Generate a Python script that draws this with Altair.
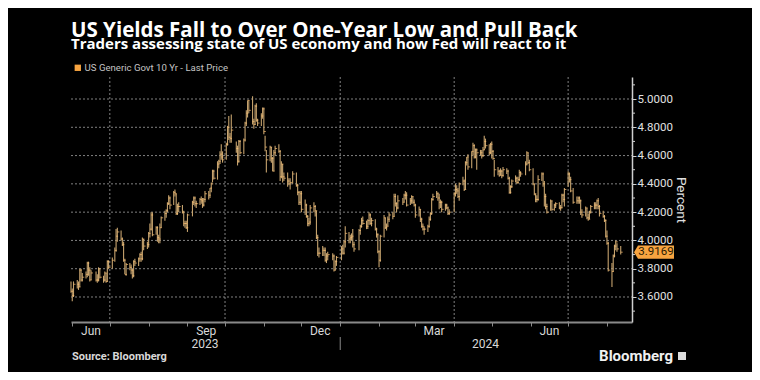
import altair as alt
import pandas as pd

# ---------------- data (US Generic Govt 10 Yr, daily high / low / last) -------------
trade_days = {
    "2023-05": [31],
    "2023-06": [1, 2, 5, 6, 7, 8, 9, 12, 13, 14, 15, 16, 20, 21, 22, 23, 26, 27, 28, 29, 30],
    "2023-07": [3, 5, 6, 7, 10, 11, 12, 13, 14, 17, 18, 19, 20, 21, 24, 25, 26, 27, 28, 31],
    "2023-08": [1, 2, 3, 4, 7, 8, 9, 10, 11, 14, 15, 16, 17, 18, 21, 22, 23, 24, 25, 28, 29, 30, 31],
    "2023-09": [1, 5, 6, 7, 8, 11, 12, 13, 14, 15, 18, 19, 20, 21, 22, 25, 26, 27, 28, 29],
    "2023-10": [2, 3, 4, 5, 6, 10, 11, 12, 13, 16, 17, 18, 19, 20, 23, 24, 25, 26, 27, 30, 31],
    "2023-11": [1, 2, 3, 6, 7, 8, 9, 10, 13, 14, 15, 16, 17, 20, 21, 22, 24, 27, 28, 29, 30],
    "2023-12": [1, 4, 5, 6, 7, 8, 11, 12, 13, 14, 15, 18, 19, 20, 21, 22, 26, 27, 28, 29],
    "2024-01": [2, 3, 4, 5, 8, 9, 10, 11, 12, 16, 17, 18, 19, 22, 23, 24, 25, 26, 29, 30, 31],
    "2024-02": [1, 2, 5, 6, 7, 8, 9, 12, 13, 14, 15, 16, 20, 21, 22, 23, 26, 27, 28, 29],
    "2024-03": [1, 4, 5, 6, 7, 8, 11, 12, 13, 14, 15, 18, 19, 20, 21, 22, 25, 26, 27, 28],
    "2024-04": [1, 2, 3, 4, 5, 8, 9, 10, 11, 12, 15, 16, 17, 18, 19, 22, 23, 24, 25, 26, 29, 30],
    "2024-05": [1, 2, 3, 6, 7, 8, 9, 10, 13, 14, 15, 16, 17, 20, 21, 22, 23, 24, 28, 29, 30, 31],
    "2024-06": [3, 4, 5, 6, 7, 10, 11, 12, 13, 14, 17, 18, 20, 21, 24, 25, 26, 27, 28],
    "2024-07": [1, 2, 3, 5, 8, 9, 10, 11, 12, 15, 16, 17, 18, 19, 22, 23, 24, 25, 26, 29, 30, 31],
    "2024-08": [1, 2, 5, 6, 7, 8, 9, 12],
}

close = [
    3.64,
    3.61, 3.69, 3.69, 3.67, 3.79, 3.72, 3.74, 3.76, 3.84, 3.79, 3.72, 3.77, 3.72, 3.72, 3.80, 3.74, 3.72, 3.77, 3.71, 3.85, 3.81,
    3.86, 3.93, 4.03, 4.06, 4.01, 3.97, 3.86, 3.76, 3.83, 3.81, 3.79, 3.75, 3.85, 3.84, 3.87, 3.90, 3.87, 4.01, 3.96, 3.97,
    4.05, 4.08, 4.18, 4.04, 4.09, 4.02, 4.01, 4.09, 4.16, 4.19, 4.21, 4.26, 4.30, 4.25, 4.34, 4.33, 4.19, 4.24, 4.24, 4.20, 4.12, 4.12, 4.09,
    4.18, 4.27, 4.30, 4.26, 4.26, 4.29, 4.28, 4.25, 4.29, 4.33, 4.32, 4.37, 4.40, 4.49, 4.44, 4.54, 4.56, 4.61, 4.59, 4.57,
    4.68, 4.80, 4.73, 4.72, 4.78, 4.65, 4.56, 4.70, 4.62, 4.71, 4.83, 4.90, 4.99, 4.92, 4.84, 4.82, 4.95, 4.85, 4.83, 4.88, 4.93,
    4.77, 4.66, 4.57, 4.66, 4.58, 4.49, 4.62, 4.65, 4.63, 4.45, 4.54, 4.45, 4.44, 4.42, 4.40, 4.41, 4.47, 4.39, 4.34, 4.27, 4.33,
    4.22, 4.25, 4.17, 4.12, 4.13, 4.23, 4.24, 4.21, 4.02, 3.91, 3.91, 3.93, 3.93, 3.86, 3.89, 3.90, 3.89, 3.79, 3.85, 3.88,
    3.94, 3.91, 3.99, 4.05, 4.01, 4.02, 4.03, 3.97, 3.94, 4.07, 4.10, 4.14, 4.12, 4.10, 4.14, 4.18, 4.12, 4.14, 4.08, 4.04, 3.92,
    3.86, 4.03, 4.16, 4.09, 4.10, 4.15, 4.18, 4.17, 4.31, 4.26, 4.23, 4.28, 4.27, 4.32, 4.32, 4.25, 4.28, 4.31, 4.27, 4.25,
    4.18, 4.22, 4.15, 4.10, 4.08, 4.08, 4.10, 4.15, 4.19, 4.29, 4.31, 4.33, 4.30, 4.27, 4.27, 4.22, 4.25, 4.23, 4.19, 4.20,
    4.33, 4.36, 4.35, 4.31, 4.40, 4.42, 4.36, 4.55, 4.59, 4.52, 4.63, 4.67, 4.59, 4.64, 4.62, 4.62, 4.60, 4.64, 4.70, 4.67, 4.62, 4.68,
    4.63, 4.58, 4.50, 4.49, 4.46, 4.49, 4.46, 4.50, 4.49, 4.44, 4.34, 4.38, 4.42, 4.44, 4.41, 4.43, 4.48, 4.47, 4.54, 4.62, 4.55, 4.50,
    4.40, 4.33, 4.29, 4.29, 4.43, 4.47, 4.40, 4.31, 4.24, 4.20, 4.28, 4.22, 4.25, 4.26, 4.23, 4.23, 4.32, 4.29, 4.36,
    4.47, 4.43, 4.35, 4.27, 4.28, 4.30, 4.28, 4.20, 4.18, 4.23, 4.16, 4.15, 4.20, 4.24, 4.25, 4.25, 4.28, 4.24, 4.19, 4.17, 4.14, 4.03,
    3.98, 3.79, 3.78, 3.89, 3.96, 3.99, 3.94, 3.9169,
]

high = [
    3.71,
    3.66, 3.71, 3.72, 3.71, 3.80, 3.80, 3.77, 3.78, 3.85, 3.85, 3.81, 3.79, 3.78, 3.76, 3.81, 3.80, 3.75, 3.78, 3.77, 3.86, 3.86,
    3.88, 3.95, 4.08, 4.09, 4.07, 4.02, 3.99, 3.87, 3.84, 3.84, 3.83, 3.80, 3.86, 3.87, 3.88, 3.91, 3.92, 4.02, 4.01, 3.99,
    4.06, 4.12, 4.20, 4.20, 4.10, 4.10, 4.04, 4.12, 4.17, 4.21, 4.22, 4.27, 4.32, 4.31, 4.35, 4.36, 4.33, 4.26, 4.27, 4.25, 4.21, 4.14, 4.14,
    4.19, 4.28, 4.31, 4.31, 4.28, 4.30, 4.31, 4.30, 4.30, 4.35, 4.35, 4.37, 4.41, 4.50, 4.50, 4.56, 4.57, 4.63, 4.68, 4.63,
    4.69, 4.81, 4.88, 4.76, 4.89, 4.70, 4.67, 4.71, 4.71, 4.72, 4.84, 4.92, 4.99, 4.99, 5.02, 4.86, 4.96, 4.97, 4.86, 4.90, 4.94,
    4.94, 4.74, 4.64, 4.67, 4.66, 4.59, 4.64, 4.67, 4.68, 4.64, 4.56, 4.54, 4.48, 4.48, 4.44, 4.44, 4.49, 4.48, 4.40, 4.35, 4.35,
    4.35, 4.29, 4.26, 4.18, 4.16, 4.25, 4.27, 4.25, 4.21, 4.04, 3.95, 3.96, 3.95, 3.95, 3.91, 3.92, 3.91, 3.90, 3.86, 3.89,
    3.96, 3.97, 4.00, 4.10, 4.06, 4.04, 4.05, 4.08, 3.99, 4.08, 4.11, 4.16, 4.17, 4.14, 4.15, 4.20, 4.19, 4.16, 4.15, 4.09, 4.05,
    3.93, 4.04, 4.18, 4.16, 4.12, 4.17, 4.20, 4.20, 4.33, 4.33, 4.27, 4.32, 4.30, 4.33, 4.35, 4.34, 4.30, 4.32, 4.31, 4.29,
    4.26, 4.24, 4.22, 4.16, 4.12, 4.10, 4.11, 4.17, 4.20, 4.30, 4.33, 4.35, 4.34, 4.33, 4.29, 4.28, 4.26, 4.26, 4.24, 4.22,
    4.34, 4.40, 4.39, 4.37, 4.41, 4.45, 4.43, 4.56, 4.59, 4.61, 4.63, 4.69, 4.68, 4.65, 4.65, 4.64, 4.64, 4.66, 4.74, 4.72, 4.68, 4.69,
    4.70, 4.64, 4.57, 4.52, 4.50, 4.51, 4.50, 4.52, 4.51, 4.50, 4.45, 4.39, 4.43, 4.46, 4.45, 4.45, 4.50, 4.49, 4.56, 4.63, 4.62, 4.57,
    4.51, 4.40, 4.33, 4.32, 4.46, 4.48, 4.48, 4.42, 4.33, 4.26, 4.29, 4.28, 4.26, 4.27, 4.27, 4.25, 4.33, 4.33, 4.37,
    4.49, 4.48, 4.45, 4.37, 4.31, 4.31, 4.31, 4.29, 4.22, 4.24, 4.23, 4.19, 4.21, 4.25, 4.27, 4.27, 4.29, 4.30, 4.25, 4.21, 4.18, 4.15,
    4.07, 3.99, 3.84, 3.90, 3.97, 4.00, 3.98, 3.96,
]

low = [
    3.63,
    3.57, 3.60, 3.66, 3.65, 3.67, 3.71, 3.71, 3.73, 3.74, 3.75, 3.71, 3.72, 3.71, 3.70, 3.71, 3.73, 3.70, 3.71, 3.70, 3.71, 3.80,
    3.80, 3.85, 3.92, 3.99, 4.00, 3.96, 3.85, 3.76, 3.75, 3.79, 3.76, 3.73, 3.74, 3.82, 3.82, 3.85, 3.85, 3.86, 3.93, 3.94,
    3.95, 4.02, 4.07, 4.03, 4.04, 3.99, 3.98, 3.98, 4.09, 4.14, 4.16, 4.20, 4.25, 4.22, 4.25, 4.31, 4.18, 4.18, 4.20, 4.19, 4.10, 4.09, 4.08,
    4.06, 4.17, 4.25, 4.24, 4.23, 4.25, 4.26, 4.23, 4.24, 4.27, 4.29, 4.30, 4.34, 4.41, 4.43, 4.43, 4.51, 4.54, 4.57, 4.55,
    4.57, 4.67, 4.71, 4.69, 4.69, 4.62, 4.53, 4.55, 4.61, 4.61, 4.70, 4.81, 4.87, 4.90, 4.82, 4.79, 4.82, 4.84, 4.81, 4.81, 4.86,
    4.75, 4.63, 4.48, 4.56, 4.55, 4.49, 4.49, 4.60, 4.62, 4.42, 4.44, 4.41, 4.42, 4.38, 4.39, 4.36, 4.40, 4.38, 4.32, 4.25, 4.25,
    4.20, 4.18, 4.16, 4.10, 4.10, 4.11, 4.20, 4.17, 4.01, 3.89, 3.88, 3.89, 3.89, 3.85, 3.84, 3.86, 3.86, 3.78, 3.79, 3.82,
    3.86, 3.90, 3.90, 3.95, 3.98, 3.98, 4.00, 3.95, 3.92, 3.93, 4.04, 4.09, 4.11, 4.08, 4.08, 4.11, 4.11, 4.10, 4.07, 4.02, 3.91,
    3.81, 3.85, 4.02, 4.08, 4.07, 4.10, 4.13, 4.15, 4.17, 4.24, 4.20, 4.22, 4.25, 4.27, 4.29, 4.24, 4.25, 4.26, 4.26, 4.24,
    4.16, 4.17, 4.13, 4.09, 4.07, 4.04, 4.06, 4.09, 4.14, 4.18, 4.28, 4.30, 4.28, 4.22, 4.23, 4.20, 4.21, 4.22, 4.18, 4.18,
    4.20, 4.31, 4.33, 4.30, 4.28, 4.39, 4.35, 4.36, 4.53, 4.50, 4.51, 4.60, 4.58, 4.58, 4.50, 4.60, 4.58, 4.59, 4.64, 4.65, 4.60, 4.61,
    4.58, 4.57, 4.45, 4.46, 4.45, 4.46, 4.44, 4.45, 4.47, 4.43, 4.33, 4.33, 4.37, 4.41, 4.40, 4.40, 4.42, 4.45, 4.46, 4.53, 4.54, 4.49,
    4.39, 4.32, 4.27, 4.27, 4.28, 4.42, 4.38, 4.24, 4.22, 4.19, 4.21, 4.21, 4.21, 4.23, 4.22, 4.21, 4.23, 4.27, 4.24,
    4.38, 4.41, 4.34, 4.26, 4.26, 4.26, 4.26, 4.18, 4.16, 4.17, 4.15, 4.14, 4.15, 4.19, 4.22, 4.22, 4.22, 4.22, 4.17, 4.16, 4.13, 4.02,
    3.97, 3.78, 3.67, 3.78, 3.88, 3.93, 3.92, 3.90,
]

series_name = "US Generic Govt 10 Yr - Last Price"
month_labels = ["Jun", "Sep", "Dec", "Mar", "Jun"]
month_label_dates = ["2023-06-16", "2023-09-16", "2023-12-16", "2024-03-16", "2024-06-16"]
year_labels = ["2023", "2024"]
year_label_dates = ["2023-09-15", "2024-04-26"]
month_ticks = [
    "2023-06-01", "2023-07-01", "2023-08-01", "2023-09-01", "2023-10-01", "2023-11-01",
    "2023-12-01", "2024-01-01", "2024-02-01", "2024-03-01", "2024-04-01", "2024-05-01",
    "2024-06-01", "2024-07-01", "2024-08-01",
]
quarter_lines = ["2023-07-01", "2023-10-01", "2024-01-01", "2024-04-01", "2024-07-01"]
year_break = ["2024-01-01"]
y_major = [3.6, 3.8, 4.0, 4.2, 4.4, 4.6, 4.8, 5.0]
y_minor = [3.5, 3.7, 3.9, 4.1, 4.3, 4.5, 4.7, 4.9, 5.1]

# ---------------- build table -------------------------------------------------------
dates = [f"{m}-{d:02d}" for m, ds in trade_days.items() for d in ds]
assert len(dates) == len(close) == len(high) == len(low), (len(dates), len(close), len(high), len(low))
df = pd.DataFrame({"date": dates, "close": close, "high": high, "low": low})
last = df.tail(1).assign(series=series_name)

W, H = 561, 245
FONT = "Roboto"
BAR_COLOR = "#c6a36e"
TICK_COLOR = "#ffc274"
ORANGE = "#f7a440"
AXIS_GREY = "#cfcfcf"
GRID_GREY = "#a0a0a0"

tick_ts = [pd.Timestamp(t) for t in month_ticks]
x_scale = alt.Scale(domain=[alt.DateTime(year=2023, month=5, date=31),
                            alt.DateTime(year=2024, month=8, date=21)])
y_scale = alt.Scale(domain=[3.4232, 5.1556], nice=False, zero=False)

x_axis = alt.Axis(
    values=[alt.DateTime(year=t.year, month=t.month, date=1) for t in tick_ts],
    labels=False, title=None,
    domainColor="#8a8a8a", domainWidth=2,
    tickColor="#8a8a8a", tickSize=4, tickWidth=1,
    grid=False,
)
y_axis = alt.Axis(
    orient="right", values=y_major, format=".4f", title="Percent",
    labelOverlap=False, labelBound=False, labelFlush=False,
    labelColor="#e0e0e0", labelFontSize=11.5, labelFont=FONT, labelPadding=1,
    domainColor=AXIS_GREY, domainWidth=1.5,
    tickColor=AXIS_GREY, tickSize=4,
    grid=False,
    titleColor="#e0e0e0", titleFontSize=13.5, titleFont=FONT, titleFontWeight="normal",
    titleAngle=90, titlePadding=1,
)


def X(field="date"):
    return alt.X(f"{field}:T", scale=x_scale, axis=x_axis, title=None)


def Y(field):
    return alt.Y(f"{field}:Q", scale=y_scale, axis=y_axis, title="Percent")


# dotted gridlines: horizontal at the labelled values, vertical at quarter starts
major = pd.DataFrame({"v": y_major})
h_grid = alt.Chart(major).mark_rule(color=GRID_GREY, strokeWidth=1, strokeDash=[2, 2], opacity=0.8).encode(
    y=Y("v"), x=alt.value(0), x2=alt.value(W)
)
qdf = pd.DataFrame({"date": quarter_lines})
v_grid = alt.Chart(qdf).mark_rule(color=GRID_GREY, strokeWidth=1, strokeDash=[2, 2], opacity=0.8).encode(
    x=X(), y=alt.value(0), y2=alt.value(H)
)

base = alt.Chart(df)

bars = base.mark_rule(color=BAR_COLOR, strokeWidth=1.1).encode(
    x=X(), y=Y("low"), y2="high:Q",
)
close_ticks = base.mark_tick(orient="horizontal", size=2, thickness=1, xOffset=1, color=TICK_COLOR).encode(
    x=X(), y=Y("close")
)

minor = pd.DataFrame({"v": y_minor})
minor_ticks = alt.Chart(minor).mark_rule(color=AXIS_GREY, strokeWidth=1).encode(
    y=Y("v"), x=alt.value(W), x2=alt.value(W + 3)
)

flag_path = "M -1 0 L -0.8 -0.33 L 1 -0.33 L 1 0.33 L -0.8 0.33 Z"
flag = alt.Chart(last).mark_point(shape=flag_path, size=1600, filled=True, opacity=1, strokeWidth=0).encode(
    x=alt.value(W + 22),
    y=Y("close"),
    color=alt.Color("series:N", scale=alt.Scale(domain=[series_name], range=[ORANGE]),
                    legend=alt.Legend(orient="none", legendX=2, legendY=-14, title=None,
                                      symbolType="square", symbolSize=40, symbolStrokeWidth=0,
                                      labelColor="#c4c4c4", labelFontSize=9.6, labelFont=FONT,
                                      labelOffset=2, padding=0)),
)
flag_text = alt.Chart(last).mark_text(font=FONT, fontSize=11.5, color="#2a1a00", align="center", baseline="middle").encode(
    x=alt.value(W + 24), y=Y("close"), text=alt.Text("close:Q", format=".4f")
)

mlab = pd.DataFrame({"date": month_label_dates, "label": month_labels})
month_text = alt.Chart(mlab).mark_text(font=FONT, fontSize=12, color="#d8d8d8", baseline="middle").encode(
    x=X(), y=alt.value(H + 9), text="label:N"
)
ylab = pd.DataFrame({"date": year_label_dates, "label": year_labels})
year_text = alt.Chart(ylab).mark_text(font=FONT, fontSize=12, color="#d8d8d8", baseline="middle").encode(
    x=X(), y=alt.value(H + 22), text="label:N"
)
yb = pd.DataFrame({"date": year_break})
year_rule = alt.Chart(yb).mark_rule(color="#8a8a8a", strokeWidth=1).encode(
    x=X(), y=alt.value(H + 15), y2=alt.value(H + 28)
)

src = pd.DataFrame({"t": ["Source: Bloomberg"]})
source_text = alt.Chart(src).mark_text(font=FONT, fontSize=11, fontWeight="bold", color="#d8d8d8",
                                       align="left", baseline="middle").encode(
    x=alt.value(1), y=alt.value(H + 35), text="t:N"
)
brand = pd.DataFrame({"t": ["Bloomberg"]})
brand_text = alt.Chart(brand).mark_text(font=FONT, fontSize=15, fontWeight="bold", color="#f0f0f0",
                                        align="right", baseline="middle").encode(
    x=alt.value(W + 41), y=alt.value(H + 34), text="t:N"
)
brand_icon = alt.Chart(brand).mark_point(shape="square", size=64, filled=True, color="#dcdcdc", opacity=1).encode(
    x=alt.value(W + 50), y=alt.value(H + 34)
)

chart = alt.layer(
    h_grid, v_grid, bars, close_ticks, minor_ticks, flag, flag_text, month_text, year_text, year_rule,
    source_text, brand_text, brand_icon,
).properties(
    width=W, height=H,
    autosize=alt.AutoSizeParams(type="none"),
    padding={"left": 63, "top": 69, "right": 120, "bottom": 50},
    background="#000000",
    title=alt.Title(
        "US Yields Fall to Over One-Year Low and Pull Back",
        subtitle="Traders assessing state of US economy and how Fed will react to it",
        anchor="start", frame="group", offset=11,
        font="Open Sans", fontSize=20.5, fontWeight="bold", color="#ffffff",
        subtitleFont="Open Sans", subtitleFontSize=15, subtitleFontWeight="bold", subtitleColor="#ffffff",
        subtitlePadding=-4,
    ),
).configure_view(stroke=None)

chart.save("out.html", embed_options={"renderer": "svg", "actions": False})
